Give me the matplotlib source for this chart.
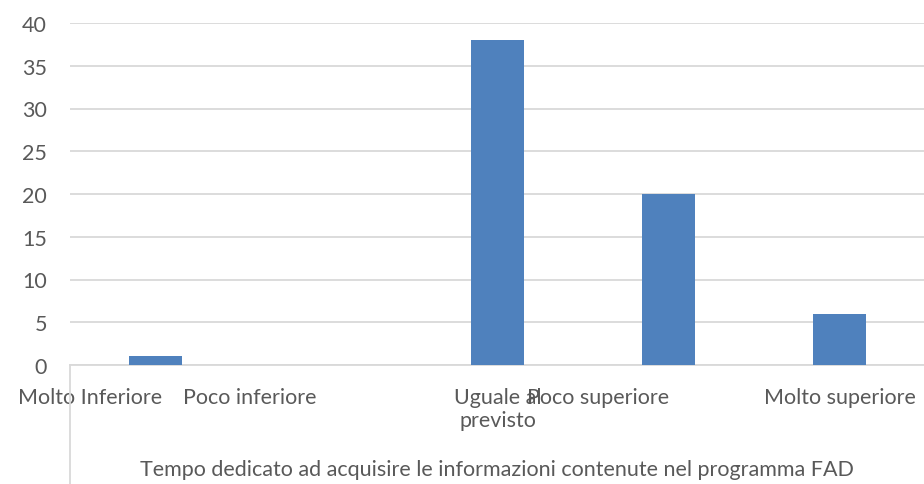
import matplotlib
matplotlib.use("Agg")
import matplotlib.pyplot as plt
from matplotlib.lines import Line2D

categories = ["Molto Inferiore", "Poco inferiore", "Uguale al\nprevisto", "Poco superiore", "Molto superiore"]
values = [1, 0, 38, 20, 6]
yticks = [0, 5, 10, 15, 20, 25, 30, 35, 40]
xlabel = "Tempo dedicato ad acquisire le informazioni contenute nel programma FAD"

# label placement offsets (Excel-like overlap layout)
label_x = [-0.383, 0.553, 2.003, 2.588, 4.0]

W, H = 924, 485
fig = plt.figure(figsize=(W / 100, H / 100), dpi=100)
plt.rcParams['font.family'] = ['Lato', 'DejaVu Sans']
gray = "#595959"
grid = "#d9d9d9"
fs = 15.5

ax = fig.add_axes([70 / W, 119 / H, 855 / W, 342 / H])
x = list(range(len(categories)))
ax.bar(x, values, width=0.31, color="#4f81bd", zorder=3)
ax.set_xlim(-0.5, 4.5)
ax.set_ylim(0, 40)
ax.set_yticks(yticks)
ax.yaxis.grid(True, color=grid, lw=1.3, zorder=0)
ax.set_axisbelow(True)
for s in ["top", "right", "left"]:
    ax.spines[s].set_visible(False)
ax.spines["bottom"].set_color(grid)
ax.spines["bottom"].set_linewidth(1.3)
ax.tick_params(axis="y", length=0, pad=16.5, labelcolor=gray)
ax.set_xticks([])
ax.set_yticklabels([str(t) for t in yticks], fontsize=fs, color=gray)
for i, (lab, lx) in enumerate(zip(categories, label_x)):
    ax.text(lx, -2.6, lab, ha="center", va="top", fontsize=fs, color=gray,
            linespacing=1.2, transform=ax.transData, clip_on=False)
fig.text(497 / W, 1 - 470 / H, xlabel, ha="center", va="center", fontsize=fs, color=gray)
fig.add_artist(Line2D([70 / W, 70 / W], [0, 119 / H], color=grid, lw=1.3, transform=fig.transFigure))

fig.savefig("out.png", dpi=100)
